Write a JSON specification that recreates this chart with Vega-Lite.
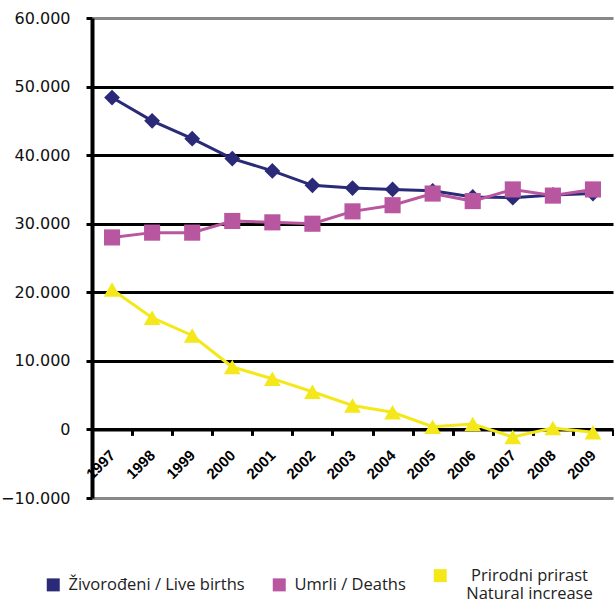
{
  "$schema": "https://vega.github.io/schema/vega-lite/v6.json",
  "width": 521,
  "height": 480,
  "padding": {"left": 0, "top": 10, "right": 0, "bottom": 5},
  "background": "white",
  "config": {
    "view": {"stroke": null},
    "axis": {"labelFont": "DejaVu Sans", "titleFont": "DejaVu Sans"}
  },
  "data": {
    "values": [
      {"year": "1997", "series": "Živorođeni / Live births", "value": 48400},
      {"year": "1998", "series": "Živorođeni / Live births", "value": 45000},
      {"year": "1999", "series": "Živorođeni / Live births", "value": 42400},
      {"year": "2000", "series": "Živorođeni / Live births", "value": 39500},
      {"year": "2001", "series": "Živorođeni / Live births", "value": 37700},
      {"year": "2002", "series": "Živorođeni / Live births", "value": 35600},
      {"year": "2003", "series": "Živorođeni / Live births", "value": 35200},
      {"year": "2004", "series": "Živorođeni / Live births", "value": 35000},
      {"year": "2005", "series": "Živorođeni / Live births", "value": 34800},
      {"year": "2006", "series": "Živorođeni / Live births", "value": 33900},
      {"year": "2007", "series": "Živorođeni / Live births", "value": 33800},
      {"year": "2008", "series": "Živorođeni / Live births", "value": 34200},
      {"year": "2009", "series": "Živorođeni / Live births", "value": 34400},
      {"year": "1997", "series": "Umrli / Deaths", "value": 28000},
      {"year": "1998", "series": "Umrli / Deaths", "value": 28700},
      {"year": "1999", "series": "Umrli / Deaths", "value": 28700},
      {"year": "2000", "series": "Umrli / Deaths", "value": 30400},
      {"year": "2001", "series": "Umrli / Deaths", "value": 30200},
      {"year": "2002", "series": "Umrli / Deaths", "value": 30000},
      {"year": "2003", "series": "Umrli / Deaths", "value": 31800},
      {"year": "2004", "series": "Umrli / Deaths", "value": 32700},
      {"year": "2005", "series": "Umrli / Deaths", "value": 34400},
      {"year": "2006", "series": "Umrli / Deaths", "value": 33300},
      {"year": "2007", "series": "Umrli / Deaths", "value": 35000},
      {"year": "2008", "series": "Umrli / Deaths", "value": 34100},
      {"year": "2009", "series": "Umrli / Deaths", "value": 35000},
      {"year": "1997", "series": "Prirodni prirast / Natural increase", "value": 20400},
      {"year": "1998", "series": "Prirodni prirast / Natural increase", "value": 16300},
      {"year": "1999", "series": "Prirodni prirast / Natural increase", "value": 13700},
      {"year": "2000", "series": "Prirodni prirast / Natural increase", "value": 9100},
      {"year": "2001", "series": "Prirodni prirast / Natural increase", "value": 7400},
      {"year": "2002", "series": "Prirodni prirast / Natural increase", "value": 5500},
      {"year": "2003", "series": "Prirodni prirast / Natural increase", "value": 3500},
      {"year": "2004", "series": "Prirodni prirast / Natural increase", "value": 2500},
      {"year": "2005", "series": "Prirodni prirast / Natural increase", "value": 400},
      {"year": "2006", "series": "Prirodni prirast / Natural increase", "value": 800},
      {"year": "2007", "series": "Prirodni prirast / Natural increase", "value": -1100},
      {"year": "2008", "series": "Prirodni prirast / Natural increase", "value": 200},
      {"year": "2009", "series": "Prirodni prirast / Natural increase", "value": -400}
    ]
  },
  "encoding": {
    "x": {
      "field": "year", "type": "ordinal",
      "scale": {"type": "band", "paddingInner": 0, "paddingOuter": 0},
      "axis": {
        "title": null,
        "offset": -68.6,
        "tickBand": "extent",
        "domainColor": "black", "domainWidth": 3,
        "tickColor": "black", "tickWidth": 3, "tickSize": 6,
        "labelAngle": -45, "labelAlign": "right", "labelBaseline": "middle",
        "labelFont": "Liberation Sans", "labelFontWeight": "bold", "labelFontSize": 15,
        "labelColor": "black", "labelPadding": 17
      }
    },
    "y": {
      "field": "value", "type": "quantitative",
      "scale": {"domain": [-10000, 60000], "nice": false, "zero": false},
      "axis": {
        "title": null,
        "values": [-10000, 0, 10000, 20000, 30000, 40000, 50000, 60000],
        "labelExpr": "replace(format(datum.value, ','), ',', '.')",
        "labelFont": "DejaVu Sans", "labelFontSize": 16, "labelColor": "#111",
        "labelPadding": 16,
        "domainColor": "black", "domainWidth": 4,
        "tickColor": "black", "tickWidth": 3, "tickSize": 6,
        "grid": true, "gridWidth": 3,
        "gridColor": {"condition": {"test": "datum.value === 60000 || datum.value === -10000", "value": "#888888"}, "value": "black"}
      }
    },
    "color": {
      "field": "series", "type": "nominal",
      "scale": {
        "domain": ["Živorođeni / Live births", "Umrli / Deaths", "Prirodni prirast / Natural increase"],
        "range": ["#2a2a78", "#b956a0", "#f5e81a"]
      },
      "legend": {
        "title": null,
        "orient": "none",
        "legendX": -47,
        "legendY": 549,
        "direction": "horizontal",
        "symbolType": "square",
        "symbolSize": 169,
        "symbolStrokeWidth": 0,
        "symbolOpacity": 1,
        "labelFont": "Open Sans", "labelFontSize": 16.5, "labelColor": "#222",
        "labelLimit": 300,
        "labelOffset": 7,
        "columnPadding": 26,
        "labelExpr": "datum.label == 'Prirodni prirast / Natural increase' ? ['Prirodni prirast', 'Natural increase'] : datum.label",
        "encode": {
          "labels": {
            "update": {
              "align": {"signal": "datum.index == 2 ? 'center' : 'left'"},
              "dx": {"signal": "datum.index == 2 ? 74 : 0"}
            }
          }
        }
      }
    }
  },
  "layer": [
    {
      "mark": {"type": "line", "strokeWidth": 3}
    },
    {
      "transform": [{"filter": "datum.series == 'Živorođeni / Live births'"}],
      "mark": {"type": "point", "filled": true, "opacity": 1, "size": 250, "shape": "diamond"}
    },
    {
      "transform": [{"filter": "datum.series == 'Umrli / Deaths'"}],
      "mark": {"type": "point", "filled": true, "opacity": 1, "size": 260, "shape": "square"}
    },
    {
      "transform": [{"filter": "datum.series == 'Prirodni prirast / Natural increase'"}],
      "mark": {"type": "point", "filled": true, "opacity": 1, "size": 280, "shape": "triangle-up"}
    }
  ]
}
